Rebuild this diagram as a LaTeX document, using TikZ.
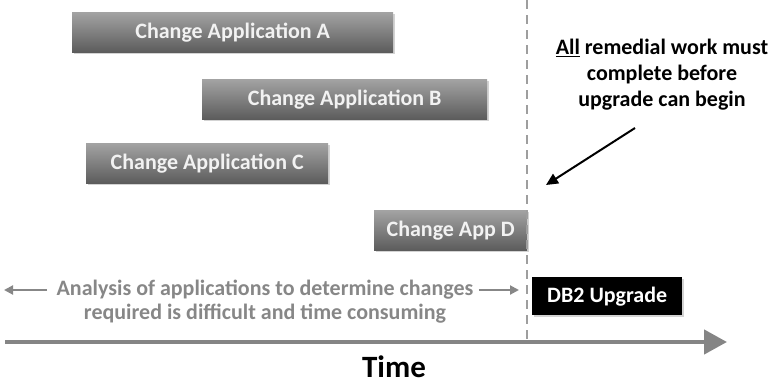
\documentclass[tikz,border=0pt]{standalone}
\usepackage{fontspec}
\setmainfont{Carlito}
\usepackage{tikz}
\usetikzlibrary{positioning, arrows.meta, shadows, calc}
\definecolor{boxtop}{HTML}{A3A3A3}
\definecolor{boxbot}{HTML}{5C5C5C}
\definecolor{axisgrey}{HTML}{858585}
\definecolor{notegrey}{HTML}{878787}
\definecolor{gategrey}{HTML}{9E9E9E}
\tikzstyle{change} = [rectangle, anchor=north west, minimum height=40pt, top color=boxtop, bottom color=boxbot, draw=none, text=white!95!black, font=\bfseries\fontsize{22}{24}\selectfont, drop shadow={shadow xshift=1.5pt, shadow yshift=-2pt, opacity=0.35}]
\tikzstyle{upgrade} = [rectangle, anchor=north west, minimum height=38pt, minimum width=150pt, fill=black, text=white, font=\bfseries\fontsize{22}{24}\selectfont, drop shadow={shadow xshift=1.5pt, shadow yshift=-2pt, opacity=0.35}]
\tikzstyle{note} = [align=center, font=\bfseries\fontsize{22}{26}\selectfont]
\tikzstyle{pointer} = [line width=2pt, -{Triangle[length=12pt, width=11pt]}]
\tikzstyle{span} = [line width=2pt, draw=notegrey, -{Triangle[length=9pt, width=9pt]}]

\begin{document}
\begin{tikzpicture}[x=1pt, y=-1pt]
        \useasboundingbox (0,0) rectangle (773,386);

        % applications
        \node[change, minimum width=321pt] (AppA) at (72,12) {Change Application A};
        \node[change, minimum width=285pt] (AppB) at (202,79) {Change Application B};
        \node[change, minimum width=242pt] (AppC) at (86,143) {Change Application C};
        \node[change, minimum width=153pt] (AppD) at (374,210) {Change App D};

        % gate
        \coordinate (GateTop) at (527,0);
        \coordinate (GateBottom) at (527,341);
        \draw[gategrey, line width=2pt, dash pattern=on 9pt off 6pt] (GateTop) -- (GateBottom);

        \node[upgrade] (Upgrade) at (532,277) {DB2 Upgrade};

        % remark
        \node[note] (Remark) at (662,75) {\underline{All} remedial work must\\complete before\\upgrade can begin};
        \coordinate (RemarkTail) at (635,128);
        \coordinate (RemarkHead) at (546,185);
        \draw[pointer] (RemarkTail) -- (RemarkHead);

        % analysis
        \node[note, text=notegrey, font=\bfseries\fontsize{22}{24}\selectfont] (Analysis) at (265,302) {Analysis of applications to determine changes\\required is difficult and time consuming};
        \coordinate (SpanLeft) at (4,290);
        \coordinate (SpanRight) at (519,290);
        \draw[span] (Analysis.west |- SpanLeft) ++(-6,0) -- (SpanLeft);
        \draw[span] (Analysis.east |- SpanRight) ++(2,0) -- (SpanRight);

        % time axis
        \coordinate (AxisStart) at (5,342);
        \coordinate (AxisEnd) at (727,342);
        \draw[axisgrey, line width=4.5pt, -{Triangle[length=23pt, width=24pt]}] (AxisStart) -- (AxisEnd);
        \node[anchor=base, inner sep=0pt, font=\bfseries\fontsize{31}{33}\selectfont] (Time) at (394,377) {Time};
\end{tikzpicture}
\end{document}
